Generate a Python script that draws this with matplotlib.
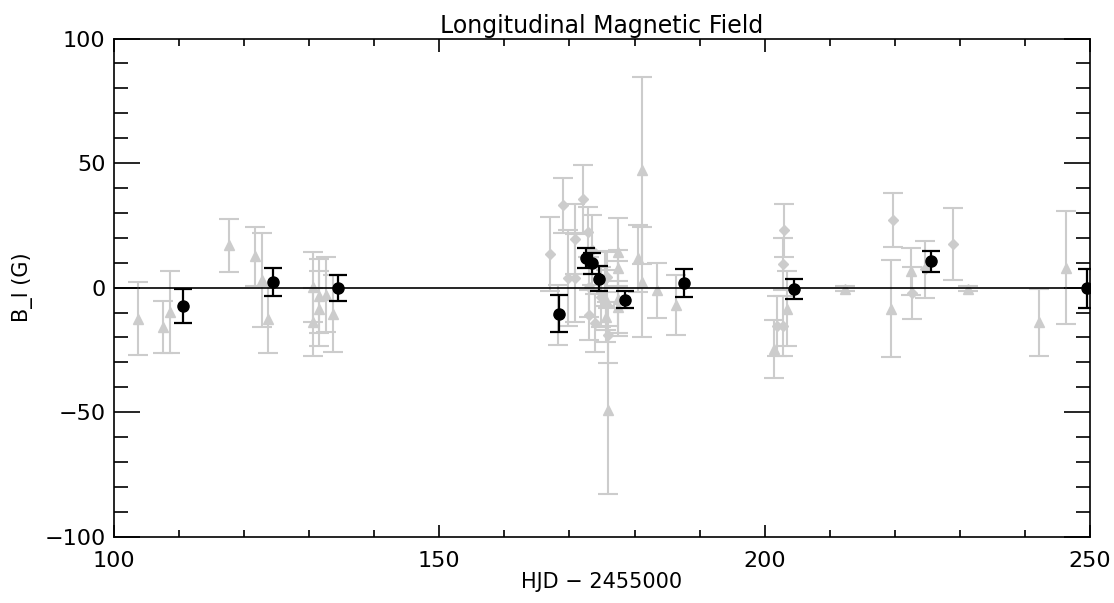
import matplotlib.pyplot as plt
from matplotlib.ticker import MultipleLocator

# gray triangles: HJD - 2455000, B_l, error
tri_x = [103.7, 107.6, 108.6, 117.7, 121.7, 122.7, 123.7, 130.6, 130.6, 131.5, 131.5,
         132.6, 133.7, 175.9, 175.6, 175.6, 177.4, 177.4, 177.4, 177.4, 180.6, 181.2,
         181.2, 183.4, 186.4, 201.4, 203.4, 212.3, 219.4, 222.5, 231.3, 242.2, 246.3]
tri_y = [-12.4, -15.8, -9.7, 17.0, 12.6, 3.0, -12.7, 0.3, -13.8, -3.4, -8.4,
         -2.8, -10.4, -49.2, -5.0, -11.7, 14.3, 7.7, -4.4, -7.7, 11.7, 47.1,
         2.3, -1.0, -7.0, -24.7, -8.4, -0.4, -8.4, 6.6, -0.4, -14.0, 8.0]
tri_err = [14.5, 10.6, 16.5, 10.7, 11.8, 19.0, 13.5, 14.0, 13.6, 15.0, 15.0,
           15.0, 15.5, 33.6, 12.0, 10.0, 13.5, 7.5, 15.0, 10.5, 13.6, 37.5,
           22.0, 11.0, 12.0, 11.7, 15.0, 1.0, 19.6, 9.5, 1.0, 13.4, 22.6]

# gray diamonds
dia_x = [167.0, 168.3, 169.0, 169.8, 170.8, 170.8, 172.1, 172.8, 173.0, 173.0, 173.9,
         173.5, 174.9, 175.4, 175.9, 175.8, 201.9, 202.8, 203.0, 202.8, 219.7, 222.7,
         224.6, 228.9]
dia_y = [13.5, -11.0, 33.0, 4.0, 19.4, 3.8, 35.7, 22.3, 0.3, -11.0, -14.1,
         15.0, -3.7, 3.6, -19.1, 4.3, -15.4, -15.4, 23.0, 9.4, 27.0, -2.0,
         7.4, 17.4]
dia_err = [14.8, 12.0, 11.0, 19.3, 14.0, 17.6, 13.7, 10.0, 12.0, 10.0, 11.7,
           14.0, 12.0, 11.0, 11.0, 10.0, 12.0, 12.0, 10.7, 10.5, 10.8, 10.4,
           11.4, 14.4]

# black circles
bl_x = [110.6, 124.5, 134.5, 168.4, 172.6, 173.5, 174.5, 178.5, 187.6, 204.5, 225.5, 249.5]
bl_y = [-7.3, 2.3, -0.1, -10.4, 12.0, 9.8, 3.5, -4.8, 2.0, -0.4, 10.6, -0.3]
bl_err = [6.8, 5.7, 5.3, 7.5, 4.0, 4.3, 5.0, 3.5, 5.6, 4.0, 4.2, 7.7]

gray = '#cccccc'

fig = plt.figure(figsize=(11.14, 6.03), dpi=100)
ax = fig.add_axes([0.1023, 0.11, 0.8762, 0.826])

ax.errorbar(tri_x, tri_y, yerr=tri_err, fmt='^', color=gray, ms=7, elinewidth=1.5,
            capsize=7, capthick=1.5, zorder=2)
ax.errorbar(dia_x, dia_y, yerr=dia_err, fmt='D', color=gray, ms=5.5, elinewidth=1.5,
            capsize=7, capthick=1.5, zorder=2)
ax.axhline(0, color='black', lw=1.2, zorder=3)
ax.errorbar(bl_x, bl_y, yerr=bl_err, fmt='o', color='black', ms=8, elinewidth=1.6,
            capsize=6.5, capthick=1.6, zorder=4)

ax.set_xlim(100, 250)
ax.set_ylim(-100, 100)
ax.xaxis.set_major_locator(MultipleLocator(50))
ax.xaxis.set_minor_locator(MultipleLocator(10))
ax.yaxis.set_major_locator(MultipleLocator(50))
ax.yaxis.set_minor_locator(MultipleLocator(10))
ax.tick_params(which='both', direction='in', top=True, right=True, labelsize=16, width=1.2)
ax.tick_params(axis='x', which='major', length=9, pad=10)
ax.tick_params(axis='x', which='minor', length=5)
ax.tick_params(axis='y', which='major', length=19, pad=6)
ax.tick_params(axis='y', which='minor', length=10)
for s in ax.spines.values():
    s.set_linewidth(1.2)

ax.set_title("Longitudinal Magnetic Field", fontsize=17, pad=4)
ax.set_xlabel("HJD \u2212 2455000", fontsize=15, labelpad=1)
ax.set_ylabel("B_l (G)", fontsize=15, labelpad=8)

fig.savefig("out.png", dpi=100)
